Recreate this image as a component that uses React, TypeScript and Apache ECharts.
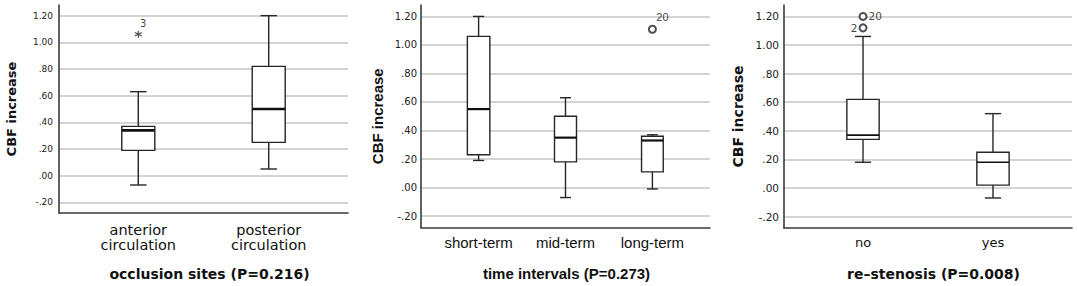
import React, { useEffect, useRef } from 'react';
import * as echarts from 'echarts';

// ---------- data ----------
const yTickValues = [-0.2, 0, 0.2, 0.4, 0.6, 0.8, 1.0, 1.2];

// panel 1: occlusion sites
const occlusionCategories = ['anterior\ncirculation', 'posterior\ncirculation'];
// [min, Q1, median, Q3, max]
const occlusionBoxes = [
  [-0.07, 0.19, 0.34, 0.37, 0.63],
  [0.05, 0.25, 0.5, 0.82, 1.2],
];
const occlusionOutliers = [{ cat: 0, value: 1.06, id: '3' }];

// panel 2: time intervals
const timeCategories = ['short-term', 'mid-term', 'long-term'];
const timeBoxes = [
  [0.19, 0.23, 0.55, 1.06, 1.2],
  [-0.07, 0.18, 0.35, 0.5, 0.63],
  [-0.01, 0.11, 0.33, 0.36, 0.37],
];
const timeOutliers = [{ cat: 2, value: 1.11, id: '20' }];

// panel 3: re-stenosis
const stenosisCategories = ['no', 'yes'];
const stenosisBoxes = [
  [0.18, 0.34, 0.37, 0.62, 1.06],
  [-0.07, 0.02, 0.18, 0.25, 0.52],
];
const stenosisOutliers = [
  { cat: 0, value: 1.2, id: '20' },
  { cat: 0, value: 1.12, id: '2' },
];

// ---------- helpers ----------
const fmtY = (v: number) => {
  const s = v.toFixed(2);
  return s.replace(/^(-?)0\./, '$1.');
};

const boxRenderer = (widths: number[], medianWidth: number) => (params: any, api: any) => {
  const x = api.value(0);
  const pMin = api.coord([x, api.value(1)]);
  const pQ1 = api.coord([x, api.value(2)]);
  const pMed = api.coord([x, api.value(3)]);
  const pQ3 = api.coord([x, api.value(4)]);
  const pMax = api.coord([x, api.value(5)]);
  const w = widths[params.dataIndex];
  const cx = pMin[0];
  const stroke = { stroke: '#262626', lineWidth: 1.4, fill: 'none' };
  return {
    type: 'group',
    children: [
      { type: 'line', shape: { x1: cx, y1: pMin[1], x2: cx, y2: pQ1[1] }, style: stroke },
      { type: 'line', shape: { x1: cx, y1: pQ3[1], x2: cx, y2: pMax[1] }, style: stroke },
      { type: 'line', shape: { x1: cx - w / 4, y1: pMin[1], x2: cx + w / 4, y2: pMin[1] }, style: stroke },
      { type: 'line', shape: { x1: cx - w / 4, y1: pMax[1], x2: cx + w / 4, y2: pMax[1] }, style: stroke },
      {
        type: 'rect',
        shape: { x: cx - w / 2, y: pQ3[1], width: w, height: pQ1[1] - pQ3[1] },
        style: { fill: '#fff', stroke: '#262626', lineWidth: 1.4 },
      },
      {
        type: 'line',
        shape: { x1: cx - w / 2, y1: pMed[1], x2: cx + w / 2, y2: pMed[1] },
        style: { stroke: '#111', lineWidth: medianWidth },
      },
    ],
  };
};

const boxData = (boxes: number[][]) => boxes.map((b, i) => [i, ...b]);

type PanelCfg = {
  grid: { left: number; top: number; width: number; height: number };
  categories: string[];
  boxes: number[][];
  xMin: number;
  xMax: number;
  widths: number[];
  medianWidth: number;
  yLabelFont: { family: string; size: number; margin: number };
  yName: { family: string; size: number; gap: number };
  xLabel: { family: string; size: number; lineHeight: number; margin: number };
  title: string;
  titleStyle: { family: string; size: number; gap: number; shift: number };
};

const panels: PanelCfg[] = [
  {
    grid: { left: 59, top: 5, width: 289, height: 208.4 },
    categories: occlusionCategories,
    boxes: occlusionBoxes,
    xMin: -0.608,
    xMax: 1.608,
    widths: [33, 33],
    medianWidth: 2.6,
    yLabelFont: { family: 'DejaVu Sans', size: 9, margin: 6 },
    yName: { family: 'DejaVu Sans', size: 13, gap: 41 },
    xLabel: { family: 'DejaVu Sans', size: 14.5, lineHeight: 15, margin: 9 },
    title: 'occlusion sites (P=0.216)',
    titleStyle: { family: 'DejaVu Sans', size: 14, gap: 54, shift: 12 },
  },
  {
    grid: { left: 421, top: 5, width: 289, height: 225 },
    categories: timeCategories,
    boxes: timeBoxes,
    xMin: -0.663,
    xMax: 2.663,
    widths: [22.5, 22, 21.7],
    medianWidth: 2.2,
    yLabelFont: { family: 'DejaVu Sans', size: 10, margin: 4 },
    yName: { family: 'Liberation Sans', size: 15, gap: 36 },
    xLabel: { family: 'Liberation Sans', size: 15, lineHeight: 15, margin: 7 },
    title: 'time intervals (P=0.273)',
    titleStyle: { family: 'Liberation Sans', size: 15, gap: 38.5, shift: 2 },
  },
  {
    grid: { left: 784, top: 5, width: 288, height: 224.5 },
    categories: stenosisCategories,
    boxes: stenosisBoxes,
    xMin: -0.608,
    xMax: 1.608,
    widths: [32.3, 32.3],
    medianWidth: 1.6,
    yLabelFont: { family: 'DejaVu Sans', size: 10.5, margin: 5 },
    yName: { family: 'DejaVu Sans', size: 14, gap: 39 },
    xLabel: { family: 'DejaVu Sans', size: 13, lineHeight: 13, margin: 8 },
    title: 're\u2013stenosis (P=0.008)',
    titleStyle: { family: 'DejaVu Sans', size: 14, gap: 39, shift: 11 },
  },
];

const axisColor = '#3a3a3a';
const gridColor = '#c6c6c6';

export default function App() {
  const ref = useRef<HTMLDivElement>(null);
  useEffect(() => {
    if (!ref.current) return;
    const chart = echarts.init(ref.current, undefined, { renderer: 'svg' });

    const grids = panels.map((p) => ({ ...p.grid, containLabel: false }));
    const xAxes = panels.map((p, i) => ({
      type: 'value',
      gridIndex: i,
      min: p.xMin,
      max: p.xMax,
      name: p.title,
      nameLocation: 'middle',
      nameGap: p.titleStyle.gap,
      nameTextStyle: {
        fontFamily: p.titleStyle.family,
        fontSize: p.titleStyle.size,
        fontWeight: 'bold',
        color: '#111',
        lineHeight: p.titleStyle.size,
        padding: [0, 0, 0, p.titleStyle.shift],
      },
      axisLine: { show: true, onZero: false, lineStyle: { color: axisColor, width: 1.6 } },
      axisTick: { show: false },
      splitLine: { show: false },
      axisLabel: {
        customValues: p.categories.map((_, k) => k),
        formatter: (v: number) => p.categories[Math.round(v)] ?? '',
        fontFamily: p.xLabel.family,
        fontSize: p.xLabel.size,
        lineHeight: p.xLabel.lineHeight,
        margin: p.xLabel.margin,
        color: '#111',
      },
    }));
    const yAxes = panels.map((p, i) => ({
      type: 'value',
      gridIndex: i,
      min: -0.28,
      max: 1.28,
      name: 'CBF increase',
      nameLocation: 'middle',
      nameGap: p.yName.gap,
      nameTextStyle: {
        fontFamily: p.yName.family,
        fontSize: p.yName.size,
        fontWeight: 'bold',
        color: '#111',
      },
      axisLine: { show: true, onZero: false, lineStyle: { color: axisColor, width: 1.6 } },
      axisTick: { show: false, customValues: yTickValues },
      splitLine: { show: true, lineStyle: { color: gridColor, width: 1.5 } },
      axisLabel: {
        customValues: yTickValues,
        formatter: fmtY,
        fontFamily: p.yLabelFont.family,
        fontSize: p.yLabelFont.size,
        margin: p.yLabelFont.margin,
        color: '#222',
      },
    }));

    const boxSeries = panels.map((p, i) => ({
      type: 'custom',
      xAxisIndex: i,
      yAxisIndex: i,
      renderItem: boxRenderer(p.widths, p.medianWidth),
      encode: { x: 0, y: [1, 2, 3, 4, 5] },
      data: boxData(p.boxes),
      z: 3,
    }));

    const asteriskPath = 'path://M0,-5L0,5M-4.33,-2.5L4.33,2.5M-4.33,2.5L4.33,-2.5';

    const outlierSeries = [
      {
        type: 'scatter',
        xAxisIndex: 0,
        yAxisIndex: 0,
        symbol: asteriskPath,
        symbolSize: 7,
        itemStyle: { color: 'none', borderColor: '#222', borderWidth: 1.2 },
        label: {
          show: true,
          formatter: (pr: any) => occlusionOutliers[pr.dataIndex].id,
          position: [11, -5],
          align: 'center',
          verticalAlign: 'middle',
          fontFamily: 'DejaVu Sans',
          fontSize: 10,
          color: '#111',
        },
        data: occlusionOutliers.map((o) => [o.cat, o.value]),
        z: 4,
      },
      {
        type: 'scatter',
        xAxisIndex: 1,
        yAxisIndex: 1,
        symbol: 'emptyCircle',
        symbolSize: 7,
        itemStyle: { color: '#222', borderWidth: 1.2 },
        label: {
          show: true,
          formatter: (pr: any) => timeOutliers[pr.dataIndex].id,
          position: [14.5, -7.5],
          align: 'center',
          verticalAlign: 'middle',
          fontFamily: 'Liberation Sans',
          fontSize: 11,
          color: '#111',
        },
        data: timeOutliers.map((o) => [o.cat, o.value]),
        z: 4,
      },
      {
        type: 'scatter',
        xAxisIndex: 2,
        yAxisIndex: 2,
        symbol: 'emptyCircle',
        symbolSize: 7,
        itemStyle: { color: '#222', borderWidth: 1.2 },
        label: {
          show: true,
          formatter: (pr: any) => stenosisOutliers[pr.dataIndex].id,
          position: 'right',
          distance: 1,
          fontFamily: 'DejaVu Sans',
          fontSize: 10.5,
          color: '#111',
        },
        data: stenosisOutliers.map((o, k) => ({
          value: [o.cat, o.value],
          label: k === 1 ? { position: 'left', distance: 1 } : undefined,
        })),
        z: 4,
      },
    ];

    chart.setOption({
      animation: false,
      backgroundColor: '#fff',
      grid: grids,
      xAxis: xAxes,
      yAxis: yAxes,
      series: [...boxSeries, ...outlierSeries],
    });
    return () => chart.dispose();
  }, []);

  return (
    <div
      ref={ref}
      style={{ position: 'absolute', left: 0, top: 0, width: 1077, height: 286 }}
    />
  );
}
